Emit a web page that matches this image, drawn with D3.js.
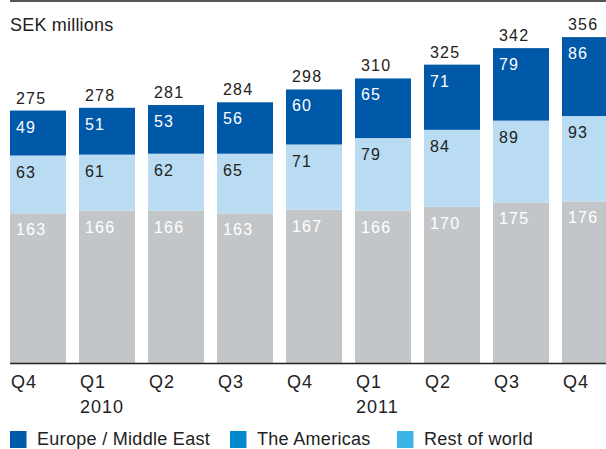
<!DOCTYPE html>
<html>
<head>
<meta charset="utf-8">
<script src="https://cdn.jsdelivr.net/npm/d3@7/dist/d3.min.js"></script>
<style>
  html, body { margin: 0; padding: 0; background: #fff; }
  svg { display: block; font-family: "Liberation Sans", Arial, Helvetica, sans-serif; }
</style>
</head>
<body>
<svg id="chart" width="606" height="449"></svg>
<script>
// Quarterly sales by region, SEK millions
const quarters = ["Q4", "Q1", "Q2", "Q3", "Q4", "Q1", "Q2", "Q3", "Q4"];
const years = ["", "2010", "", "", "", "2011", "", "", ""];
const restOfWorld = [163, 166, 166, 163, 167, 166, 170, 175, 176];
const americas = [63, 61, 62, 65, 71, 79, 84, 89, 93];
const europeMiddleEast = [49, 51, 53, 56, 60, 65, 71, 79, 86];
const totals = [275, 278, 281, 284, 298, 310, 325, 342, 356];

const legendNames = ["Europe / Middle East", "The Americas", "Rest of world"];
const legendColors = ["#0058a8", "#0088cf", "#3bb4e7"];

// stack order from the bottom up
const layers = [
  { values: restOfWorld, fill: "#c3c6c9", text: "#ffffff" },
  { values: americas, fill: "#b9dcf2", text: "#222222" },
  { values: europeMiddleEast, fill: "#0058a8", text: "#ffffff" }
];

const svg = d3.select("#chart");
const baseY = 363;

const x = d3.scaleBand()
  .domain(d3.range(quarters.length))
  .range([10, 618])
  .paddingInner(13 / 69)
  .paddingOuter(0)
  .align(0);

const y = d3.scaleLinear().domain([0, 400]).range([baseY, baseY - 400 * 0.918]);

// top rule
svg.append("rect").attr("x", 10).attr("y", 0).attr("width", 596).attr("height", 2).attr("fill", "#555759");

svg.append("text").attr("x", 10).attr("y", 30.5)
  .attr("font-size", 18).attr("letter-spacing", 0.2).attr("fill", "#222").text("SEK millions");

// stacked segments
const cumulative = quarters.map(() => 0);
layers.forEach(layer => {
  const g = svg.append("g");
  layer.values.forEach((v, i) => {
    const y0 = cumulative[i];
    const y1 = y0 + v;
    cumulative[i] = y1;
    g.append("rect")
      .attr("x", x(i))
      .attr("y", y(y1))
      .attr("width", x.bandwidth())
      .attr("height", y(y0) - y(y1))
      .attr("fill", layer.fill);
    g.append("text")
      .attr("x", x(i) + 6)
      .attr("y", y(y1) + 22)
      .attr("font-size", 16)
      .attr("letter-spacing", 1.2)
      .attr("fill", layer.text)
      .text(v);
  });
});

// totals above each bar
svg.append("g").selectAll("text")
  .data(totals)
  .join("text")
  .attr("x", (d, i) => x(i) + 6)
  .attr("y", (d, i) => y(cumulative[i]) - 7)
  .attr("font-size", 16)
  .attr("letter-spacing", 1.2)
  .attr("fill", "#222")
  .text(d => d);

// baseline
svg.append("line")
  .attr("x1", 10).attr("x2", 606)
  .attr("y1", baseY + 0.5).attr("y2", baseY + 0.5)
  .attr("stroke", "#222").attr("stroke-width", 1.3);

// category labels
const axisG = svg.append("g").attr("font-size", 18).attr("letter-spacing", 1).attr("fill", "#222");
quarters.forEach((q, i) => {
  axisG.append("text").attr("x", x(i) + 1).attr("y", 388).text(q);
  if (years[i]) axisG.append("text").attr("x", x(i) + 1).attr("y", 413).text(years[i]);
});

// legend
const legendX = [10, 230, 397];
const legend = svg.append("g");
legendNames.forEach((name, i) => {
  legend.append("rect")
    .attr("x", legendX[i]).attr("y", 431)
    .attr("width", 16.5).attr("height", 17)
    .attr("fill", legendColors[i]);
  legend.append("text")
    .attr("x", legendX[i] + 27).attr("y", 444.5)
    .attr("font-size", 18).attr("letter-spacing", 0.3).attr("fill", "#222")
    .text(name);
});
</script>
</body>
</html>
